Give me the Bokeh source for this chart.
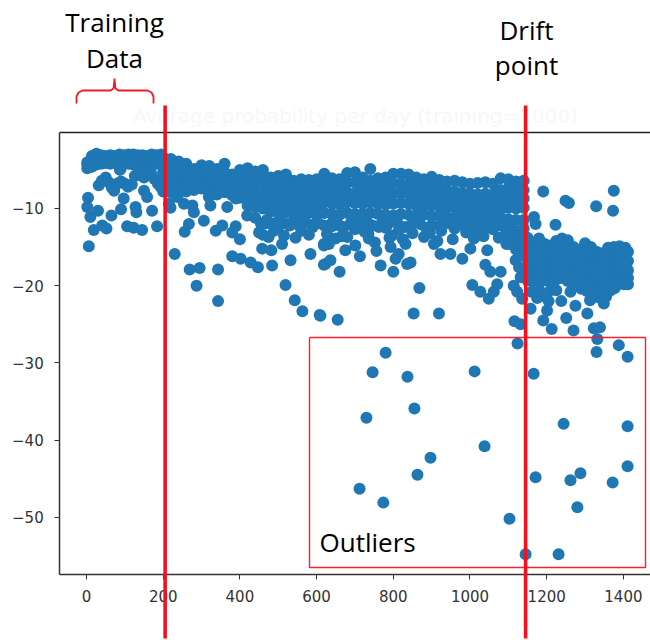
from bokeh.plotting import figure
from bokeh.models import FixedTicker, Range1d
from bokeh.core.properties import value
from bokeh.embed import file_html
from bokeh.resources import INLINE

# ---- dense training period
train_x = [2,14,26,38,50,62,74,86,98,110,122,134,146,158,170,182,194]
train_y1 = [-4.0,-3.2,-2.9,-3.1,-3.2,-3.1,-3.2,-3.0,-3.1,-3.0,-3.0,-3.1,-3.1,-3.2,-3.0,-3.1,-3.0]
train_y2 = [-4.8,-4.2,-3.8,-3.8,-3.7,-3.8,-3.8,-3.7,-3.8,-3.8,-3.7,-3.8,-3.9,-3.7,-3.8,-3.8,-3.6]
train_y3 = [-4.3,-4.6,-4.3,-4.2,-4.1,-4.2,-4.1,-4.2,-4.1,-4.2,-4.3,-4.1,-4.3,-4.2,-4.4,-4.2,-4.3]
layer2_x = [32,40,50,58,66,72,80,90,100,108,118,126,134,142,150,160,170,178,186,194,89,87,150,158,193,200]
layer2_y = [-7.0,-6.4,-6.0,-6.6,-7.3,-7.7,-6.8,-6.5,-6.8,-7.2,-6.9,-5.8,-5.4,-5.5,-6.0,-5.3,-5.6,-6.2,-6.8,-6.6,-4.9,-5.0,-7.7,-8.5,-7.2,-7.8]

# ---- main band before the drift
band_x = [200,220,240,260,280,300,320,340,360,380,400,420,440,460,480,500,520,540,560,580,600,620,640,660,680,700,720,740,760,780,800,820,840,860,880,900,920,940,960,980,1000,1020,1040,1060,1080,1100,1120,1140]
band_y1 = [-3.4,-3.6,-3.9,-4.2,-4.9,-4.4,-4.5,-4.9,-4.2,-5.6,-5.0,-4.8,-5.2,-5.0,-6.0,-5.8,-5.6,-6.4,-6.2,-6.3,-6.2,-5.5,-6.1,-6.2,-5.4,-5.3,-6.0,-4.9,-6.1,-6.0,-5.5,-5.5,-5.6,-6.0,-6.2,-5.9,-6.3,-6.5,-6.4,-6.6,-6.8,-6.7,-6.6,-6.8,-6.1,-6.2,-6.5,-6.4]
band_y2 = [-4.4,-4.6,-4.9,-5.2,-5.5,-5.4,-5.6,-5.8,-5.3,-6.4,-6.0,-5.9,-6.2,-6.2,-7.0,-7.0,-6.8,-7.4,-7.2,-7.3,-7.3,-6.8,-7.2,-7.3,-6.7,-6.6,-7.1,-6.4,-7.2,-7.2,-6.8,-6.8,-6.9,-7.3,-7.5,-7.3,-7.5,-7.7,-7.8,-8.0,-8.1,-8.2,-8.1,-8.2,-7.6,-7.4,-7.7,-7.6]
band_y3 = [-5.3,-5.6,-5.9,-6.0,-6.3,-6.2,-6.6,-6.8,-6.4,-7.1,-7.0,-7.0,-7.4,-7.5,-8.0,-8.2,-8.0,-8.4,-8.4,-8.3,-8.4,-8.0,-8.3,-8.4,-8.0,-8.0,-8.2,-7.8,-8.3,-8.3,-8.1,-8.0,-8.1,-8.4,-8.6,-8.4,-8.6,-8.7,-8.8,-9.0,-9.1,-9.2,-9.1,-9.2,-8.9,-8.6,-8.8,-8.7]
band_y4 = [-6.3,-6.6,-6.7,-6.9,-7.0,-7.1,-7.5,-7.6,-7.4,-7.8,-8.0,-8.2,-8.6,-8.8,-9.2,-9.4,-9.3,-9.4,-9.6,-9.4,-9.6,-9.2,-9.4,-9.5,-9.2,-9.3,-9.4,-9.2,-9.4,-9.5,-9.4,-9.3,-9.4,-9.6,-9.7,-9.6,-9.7,-9.8,-9.9,-10.0,-10.1,-10.2,-10.1,-10.2,-10.1,-9.9,-10.0,-9.9]
band_y5 = [-7.6,-7.9,-7.4,-7.8,-7.6,-7.4,-8.3,-8.2,-7.9,-8.3,-8.6,-9.6,-9.8,-10.0,-10.4,-10.6,-10.5,-10.6,-10.7,-10.6,-10.8,-10.6,-10.7,-10.8,-10.6,-10.7,-10.7,-10.6,-10.7,-10.8,-10.9,-10.7,-10.8,-10.9,-10.8,-11.0,-10.9,-11.1,-11.2,-11.0,-11.3,-11.2,-11.0,-11.3,-11.2,-11.4,-11.5,-11.5]
under_x = [440,455,470,490,505,525,540,555,570,590,605,620,640,660,690,710,730,745,770,785,810,830,850,870,900,925,945,965,985,1005,1025,1045,1065,1085,1100,1115,1130,1140,1130,1110,1120,
           460,475,515,545,580,632,665,735,752,790,825,895,915,955,1010,1035,1075,1095,1125]
under_y = [-11.2,-12.0,-11.5,-11.9,-11.6,-12.0,-11.6,-12.2,-11.8,-12.1,-11.9,-12.2,-11.9,-12.2,-11.8,-12.1,-11.7,-12.2,-11.9,-12.1,-11.8,-12.4,-11.9,-12.0,-12.2,-12.0,-11.9,-12.3,-12.1,-12.4,-12.0,-12.4,-12.1,-12.3,-12.9,-12.8,-13.3,-12.6,-14.6,-14.0,-15.3,
           -13.4,-13.7,-13.5,-13.8,-13.4,-14.6,-13.6,-13.3,-14.4,-13.8,-14.0,-13.2,-14.2,-14.0,-13.9,-13.6,-13.8,-14.6,-13.9]

# ---- points below the band and stragglers
low_x = [6,4,2,10,30,19,41,52,65,90,97,106,123,145,128,130,171,184,215,219,230,269,295,343,287,343,519,543,563,608,
         256,267,306,280,254,276,237,337,354,389,380,400,380,402,428,447,484,458,482,510,532,584,619,619,323,319,367,389,419,450,489,
         671,680,627,649,619,675,713,701,756,736,762,793,814,806,767,800,845,836,868,660,623,636,832,797,880,906,923,949,980,1001,1045,1040,1053,1080,1071,1006,1027,1049,1062,
         1119,1128,1132,1114,1123,1136,853,919,610,655,1116,1132,1124,
         470,500,530,560,590,640,700,725,745,780,815,850,885,925,960,990,1020,1060,1090,1110,1130,1105,1125,1140,1135]
low_y = [-14.9,-8.6,-9.8,-11.1,-10.3,-12.8,-12.2,-12.6,-10.9,-10.1,-8.7,-12.3,-12.5,-12.8,-9.8,-10.5,-10.3,-12.3,-9.4,-9.9,-15.9,-17.9,-17.7,-17.9,-20.0,-22.0,-19.9,-21.9,-23.3,-23.8,
         -13.0,-12.0,-11.6,-10.5,-9.4,-9.6,-8.5,-12.9,-12.2,-12.3,-13.1,-14.0,-16.2,-16.5,-17.0,-17.6,-17.4,-15.2,-15.4,-14.6,-16.7,-15.9,-17.3,-14.6,-9.6,-8.5,-9.8,-8.7,-10.9,-13.1,-12.9,
         -12.4,-13.7,-13.3,-13.9,-14.8,-15.4,-16.2,-14.8,-15.5,-13.9,-12.4,-15.0,-15.9,-16.5,-17.4,-18.2,-17.0,-17.2,-20.3,-18.2,-17.2,-16.7,-14.6,-13.5,-13.7,-14.6,-15.9,-15.9,-16.5,-15.2,-15.4,-17.3,-18.2,-18.2,-19.8,-19.9,-20.8,-21.7,-20.8,
         -16.7,-17.6,-18.9,-20.0,-20.8,-21.7,-23.6,-23.6,-23.9,-24.4,-24.6,-25.0,-27.5,
         -11.9,-12.4,-12.2,-12.9,-12.4,-12.3,-12.7,-13.0,-12.2,-12.5,-12.7,-13.2,-12.5,-12.9,-12.6,-13.1,-12.8,-12.7,-13.6,-12.6,-13.0,-14.6,-15.4,-14.2,-16.0]

# ---- cluster after the drift
late_x = [1150,1165,1180,1195,1210,1225,1240,1255,1270,1285,1300,1315,1330,1345,1360,1375,1390,1405,1412]
late_y1 = [-13.8,-14.4,-13.9,-14.6,-14.8,-14.2,-13.9,-14.1,-15.0,-15.4,-14.5,-15.0,-15.6,-15.8,-15.1,-15.0,-14.9,-15.1,-15.6]
late_y2 = [-15.2,-15.6,-15.3,-15.8,-16.0,-15.5,-15.2,-15.4,-16.0,-16.4,-15.8,-16.2,-16.6,-16.8,-16.2,-16.1,-16.0,-16.2,-16.8]
late_y3 = [-16.6,-16.9,-16.7,-17.0,-17.1,-16.7,-16.5,-16.6,-17.2,-17.4,-17.0,-17.3,-17.7,-17.8,-17.3,-17.2,-17.1,-17.3,-18.0]
late_y4 = [-18.0,-18.2,-18.0,-18.2,-18.3,-17.9,-17.8,-17.9,-18.3,-18.5,-18.2,-18.5,-18.7,-18.8,-18.4,-18.3,-18.2,-18.4,-19.0]
late_y5 = [-19.3,-19.5,-19.4,-19.3,-19.6,-19.2,-19.0,-19.4,-19.5,-19.7,-19.4,-19.7,-19.9,-20.0,-19.6,-19.5,-19.4,-19.6,-19.8]
late2_x = [1191,1249,1258,1329,1375,1373,1223,1167,1171,1158,1201,1191,1213,1251,1270,1306,1275,1238,1313,1323,1339,1332,1388,1330,1210,1205,1349,1367,1401,1180,1225,1262,1340,1355,
           1160,1175,1195,1290,1305,1322,1335,1345,1378]
late2_y = [-7.8,-9.0,-9.3,-9.7,-7.7,-10.3,-12.1,-11.1,-12.0,-23.0,-23.2,-24.5,-25.6,-24.2,-25.8,-23.6,-22.6,-22.0,-21.9,-25.5,-25.4,-26.9,-27.7,-28.6,-20.6,-22.0,-22.3,-20.6,-19.8,-20.5,-20.6,-20.8,-21.0,-21.4,
           -20.8,-21.6,-21.4,-20.4,-20.7,-20.9,-21.5,-20.6,-20.3]

# ---- outliers
out_x = [780,746,837,1012,1166,730,855,1244,1411,1038,897,863,1171,1288,1262,1372,1411,712,774,1280,1103,1145,1231,1411]
out_y = [-28.7,-31.2,-31.8,-31.1,-31.4,-37.1,-35.9,-37.9,-38.2,-40.8,-42.3,-44.5,-44.8,-44.3,-45.2,-45.5,-43.4,-46.3,-48.1,-48.7,-50.2,-54.8,-54.8,-29.2]

x_ticks = [0,200,400,600,800,1000,1200,1400]
y_ticks = [-10,-20,-30,-40,-50]
y_labels = ["\u221210","\u221220","\u221230","\u221240","\u221250"]
drift_lines_x = [205,1145]
title_text = "Average probability per day (training=1000)"

xs, ys = [], []
for col in (train_y1, train_y2, train_y3):
    xs += train_x; ys += col
xs += layer2_x; ys += layer2_y
for col in (band_y1, band_y2, band_y3, band_y4, band_y5):
    xs += band_x; ys += col
xs += under_x; ys += under_y
xs += low_x; ys += low_y
for col in (late_y1, late_y2, late_y3, late_y4, late_y5):
    xs += late_x; ys += col
xs += late2_x; ys += late2_y
xs += out_x; ys += out_y

W, H = 650, 640
X0, X1 = -224.3, 1470.7
Y0, Y1 = -65.96, 16.94
AX_L, AX_R, AX_T, AX_B = -70, 1470.7, -0.16, -57.4

p = figure(width=W, height=H, output_backend="svg", toolbar_location=None,
           x_range=Range1d(X0, X1), y_range=Range1d(Y0, Y1),
           min_border_left=0, min_border_right=0, min_border_top=0, min_border_bottom=0)
p.grid.visible = False
p.outline_line_color = None

p.scatter(xs, ys, size=12, color="#1f77b4", line_color=None)

for ax in (p.xaxis[0], p.yaxis[0]):
    ax.axis_line_color = "#333333"
    ax.axis_line_width = 1.5
    ax.major_tick_line_color = "#333333"
    ax.major_tick_line_width = 1
    ax.major_tick_out = 5
    ax.major_tick_in = 0
    ax.minor_tick_line_color = None
    ax.major_label_text_font = "DejaVu Sans"
    ax.major_label_text_font_size = "15px"
    ax.major_label_text_color = "#333333"
p.xaxis[0].ticker = FixedTicker(ticks=x_ticks)
p.yaxis[0].ticker = FixedTicker(ticks=y_ticks)
p.yaxis[0].major_label_overrides = dict(zip(y_ticks, y_labels))
p.xaxis[0].major_label_standoff = 11
p.yaxis[0].major_label_standoff = 11
p.xaxis[0].fixed_location = AX_B
p.yaxis[0].fixed_location = AX_L
p.xaxis[0].bounds = (AX_L, AX_R)
p.yaxis[0].bounds = (AX_B, AX_T)

def dx(px):
    return X0 + px * (X1 - X0) / W
def dy(py):
    return Y1 - py * (Y1 - Y0) / H

# top spine
p.line([AX_L, AX_R], [AX_T, AX_T], line_color="#222222", line_width=1.5)

def text(px, py, s, size, color="#000000", font="Open Sans", align="center"):
    p.text([dx(px)], [dy(py)], text=[s], text_font=value(font), text_font_size=value(size),
           text_color=color, text_align=align, text_baseline="middle", level="overlay")

# faint remnant of the original title goes under the red lines
text(355, 115, title_text, "20px", color="#f7f7f7", font="DejaVu Sans")

# outlier box
p.line([dx(309), dx(645), dx(645), dx(309), dx(309)], [dy(337), dy(337), dy(567), dy(567), dy(337)],
       line_color="#f5222d", line_width=1.4, level="overlay")

# brace, in page pixels
brace_px = [76,76,78,82,110,113,114,115,118,147,151,153,153]
brace_py = [103,96,92,90,90,88,78,88,90,90,92,96,103]
p.line([dx(a) for a in brace_px], [dy(b) for b in brace_py], line_color="#ee1c25", line_width=1.8, level="overlay")

for x in drift_lines_x:
    p.line([x, x], [dy(105), dy(638)], line_color="#f5101f", line_width=3.6, level="overlay")

text(114, 21, "Training", "26px")
text(114, 57, "Data", "26px")
text(526, 29, "Drift", "26px")
text(526, 64, "point", "26px")
text(319, 541, "Outliers", "26px", align="left")

open("out.html", "w").write(file_html(p, INLINE))
